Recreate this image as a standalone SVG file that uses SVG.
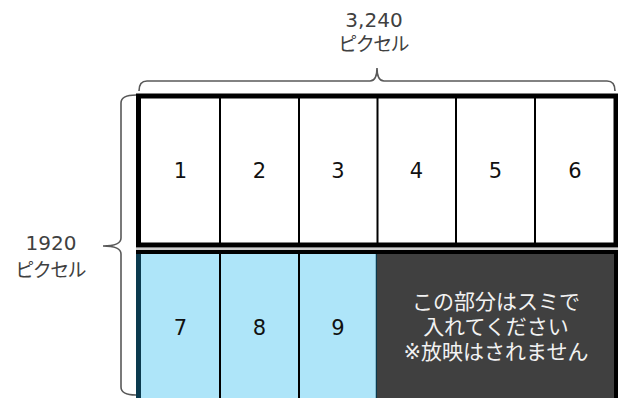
<svg xmlns="http://www.w3.org/2000/svg" width="618" height="398" viewBox="0 0 618 398">
  <style>
    .num { font-family: "DejaVu Sans", "Noto Sans CJK JP", sans-serif; font-size: 21px; fill: #111; text-anchor: middle; }
    .lbl { font-family: "DejaVu Sans", "Noto Sans CJK JP", sans-serif; font-size: 20px; fill: #404040; text-anchor: middle; }
    .jp { font-family: "DejaVu Sans", "Noto Sans CJK JP", sans-serif; font-size: 19px; fill: #404040; text-anchor: middle; font-feature-settings: "palt"; }
    .note { font-family: "DejaVu Sans", "Noto Sans CJK JP", sans-serif; font-size: 21px; fill: #f2f2f2; text-anchor: middle; }
    .div { stroke: #000; stroke-width: 2; }
    .blue { fill: #aee5f9; }
    .brace { fill: none; stroke: #595959; stroke-width: 1.6; }
  </style>
  <rect width="618" height="398" fill="#fff"/>

  <g id="connectors">
    <path class="brace" d="M139,91 Q139,81 147,81 L370,81 Q377,81 377,68 Q377,81 384,81 L607,81 Q615,81 615,91"/>
    <path class="brace" d="M136,95 Q121,95 121,103 L121,238 Q121,246 103,246 Q121,246 121,254 L121,387 Q121,395 136,395"/>
  </g>

  <g id="label-width">
    <text class="lbl" x="374" y="27">3,240</text>
    <text class="jp" x="374" y="51">ピクセル</text>
  </g>
  <g id="label-height">
    <text class="lbl" x="51" y="250">1920</text>
    <text class="jp" x="51" y="277">ピクセル</text>
  </g>

  <g id="top-row">
    <rect x="138.5" y="96" width="477.5" height="149" fill="#fff" stroke="#000" stroke-width="5"/>
    <line class="div" x1="220" y1="98" x2="220" y2="243"/>
    <line class="div" x1="299" y1="98" x2="299" y2="243"/>
    <line class="div" x1="377.5" y1="98" x2="377.5" y2="243"/>
    <line class="div" x1="456" y1="98" x2="456" y2="243"/>
    <line class="div" x1="535" y1="98" x2="535" y2="243"/>
  </g>
  <g id="cell-1"><text class="num" x="180.5" y="178">1</text></g>
  <g id="cell-2"><text class="num" x="259.5" y="178">2</text></g>
  <g id="cell-3"><text class="num" x="338" y="178">3</text></g>
  <g id="cell-4"><text class="num" x="416.5" y="178">4</text></g>
  <g id="cell-5"><text class="num" x="495.5" y="178">5</text></g>
  <g id="cell-6"><text class="num" x="575" y="178">6</text></g>

  <g id="bottom-row">
    <line x1="136" y1="249" x2="618" y2="249" stroke="#9a9a9a" stroke-width="1"/>
    <rect x="136" y="250" width="482" height="4" fill="#000"/>
    <rect x="136" y="254" width="5" height="144" fill="#0b3a4e"/>
    <rect x="614" y="254" width="4" height="144" fill="#000"/>
  </g>
  <g id="cell-7">
    <rect class="blue" x="141" y="254" width="79" height="144"/>
    <text class="num" x="180.5" y="335">7</text>
  </g>
  <g id="cell-8">
    <rect class="blue" x="220" y="254" width="79" height="144"/>
    <line class="div" x1="220" y1="254" x2="220" y2="398"/>
    <text class="num" x="259.5" y="335">8</text>
  </g>
  <g id="cell-9">
    <rect class="blue" x="299" y="254" width="78" height="144"/>
    <line class="div" x1="299" y1="254" x2="299" y2="398"/>
    <line x1="376.5" y1="254" x2="376.5" y2="398" stroke="#0b3a4e" stroke-width="1.5"/>
    <text class="num" x="338" y="335">9</text>
  </g>
  <g id="black-area">
    <rect x="377" y="254" width="237" height="144" fill="#404040"/>
    <text class="note" x="496" y="309">この部分はスミで</text>
    <text class="note" x="496" y="334">入れてください</text>
    <text class="note" x="496" y="359">※放映はされません</text>
  </g>
</svg>
